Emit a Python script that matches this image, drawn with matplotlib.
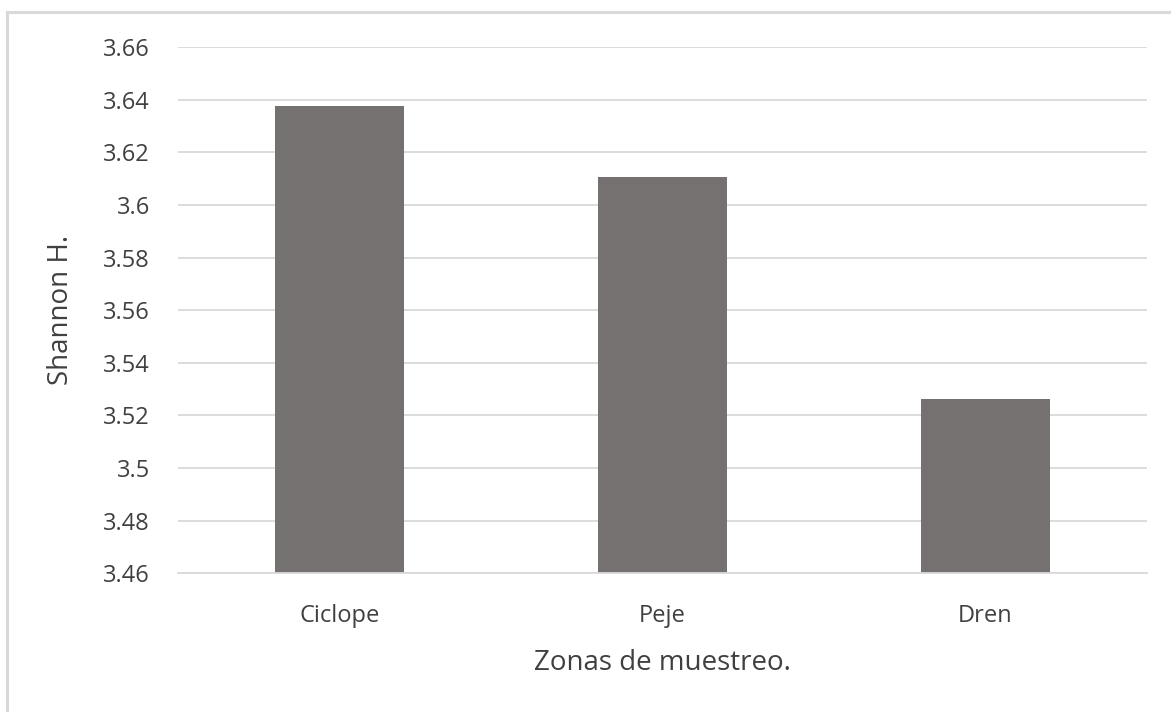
import matplotlib
matplotlib.use("Agg")
import matplotlib.pyplot as plt
from matplotlib.lines import Line2D
import numpy as np

# Shannon diversity index per sampling zone
zonas = ["Ciclope", "Peje", "Dren"]
shannon_h = [3.6378, 3.6108, 3.5262]

y_ticks = [3.46, 3.48, 3.50, 3.52, 3.54, 3.56, 3.58, 3.60, 3.62, 3.64, 3.66]
y_tick_labels = ["3.46", "3.48", "3.5", "3.52", "3.54", "3.56", "3.58", "3.6", "3.62", "3.64", "3.66"]

W, H, DPI = 1171, 712, 100
plt.rcParams["font.family"] = ["Open Sans", "DejaVu Sans"]
text_color = "#404040"
grid_color = "#D9D9D9"
bar_color = "#767171"

fig = plt.figure(figsize=(W / DPI, H / DPI), dpi=DPI)
fig.patch.set_facecolor("white")

left, right = 177.7 / W, 1146.7 / W
top, bottom = 1 - 47.3 / H, 1 - 573.3 / H
ax = fig.add_axes([left, bottom, right - left, top - bottom])

x = np.arange(len(zonas))
ax.bar(x, shannon_h, width=0.4, color=bar_color, zorder=3)

ax.set_xlim(-0.5, len(zonas) - 0.5)
ax.set_ylim(y_ticks[0], y_ticks[-1])
ax.set_yticks(y_ticks)
ax.set_yticklabels(y_tick_labels)
ax.set_xticks(x)
ax.set_xticklabels(zonas)

ax.yaxis.grid(True, color=grid_color, linewidth=1.3, zorder=0)
for s in ["top", "right", "left"]:
    ax.spines[s].set_visible(False)
ax.spines["bottom"].set_color(grid_color)
ax.spines["bottom"].set_linewidth(1.3)
ax.spines["bottom"].set_zorder(4)

ax.tick_params(axis="both", length=0, colors=text_color, labelsize=17)
ax.tick_params(axis="y", pad=20)
ax.tick_params(axis="x", pad=22)

ax.set_xlabel("Zonas de muestreo.", fontsize=20, color=text_color, labelpad=15)
ax.set_ylabel("Shannon H.", fontsize=20, color=text_color, labelpad=20)

# light chart-area frame along the left and top edges
fx = lambda px: px / W
fy = lambda py: 1 - py / H
fig.add_artist(Line2D([fx(6.5), fx(6.5)], [0, fy(11.5)], color=grid_color, linewidth=2.2,
                      transform=fig.transFigure))
fig.add_artist(Line2D([fx(6.5), 1], [fy(11.5), fy(11.5)], color=grid_color, linewidth=2.2,
                      transform=fig.transFigure))

fig.savefig("out.png", dpi=DPI, facecolor="white")
